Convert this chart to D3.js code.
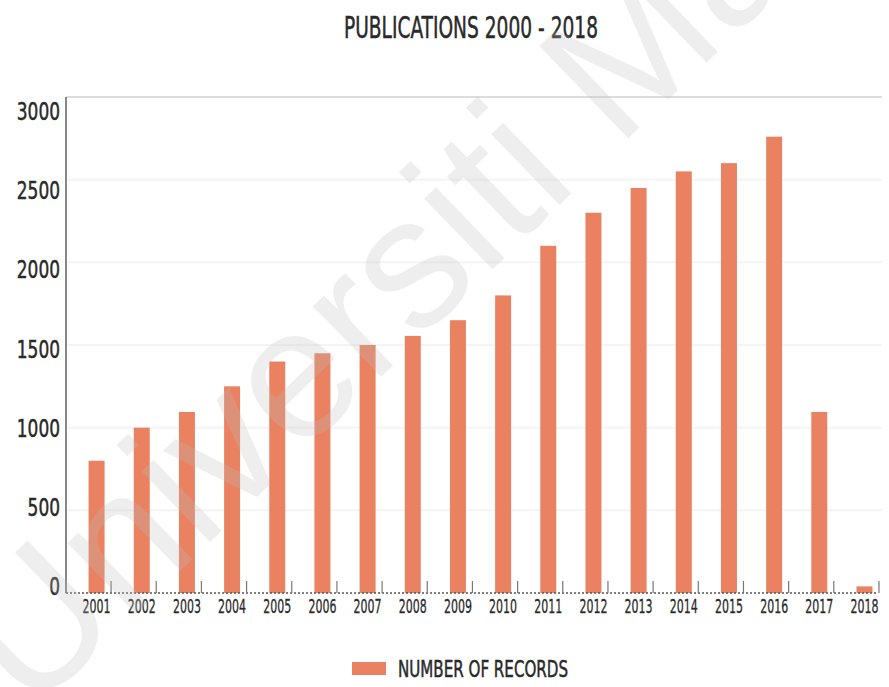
<!DOCTYPE html>
<html>
<head>
<meta charset="utf-8">
<script src="https://cdn.jsdelivr.net/npm/d3@7"></script>
<style>
  html, body { margin: 0; padding: 0; background: #ffffff; }
  svg { display: block; }
  text.lbl { font-family: "Liberation Sans Narrow", "DejaVu Sans Condensed", "Roboto", sans-serif; fill: #2a2a2a; stroke: #2a2a2a; stroke-width: 0.5px; }
  text.stamp { font-family: "Liberation Sans", Arial, sans-serif; font-weight: normal; }
</style>
</head>
<body>
<svg id="chart" width="889" height="687"></svg>
<script>
// Publication counts per year
const years = ["2001","2002","2003","2004","2005","2006","2007","2008","2009",
               "2010","2011","2012","2013","2014","2015","2016","2017","2018"];
const records = [800, 1000, 1095, 1250, 1400, 1450, 1500, 1555, 1650,
                 1800, 2100, 2300, 2450, 2550, 2600, 2760, 1095, 40];
const yTicks = [0, 500, 1000, 1500, 2000, 2500, 3000];
const titleText = "PUBLICATIONS 2000 - 2018";
const legendText = "NUMBER OF RECORDS";
const stampText = "Universiti Malaya";

const svg = d3.select("#chart");
const barColor = "#ea8262";

// Geometry
const left = 66, baseY = 593, topY = 97;
const step = 45.17, padIn = 0.646, padOut = 0.5;

const x = d3.scaleBand()
  .domain(years)
  .range([left, left + step * (years.length - padIn + 2 * padOut)])
  .paddingInner(padIn)
  .paddingOuter(padOut);

const y = d3.scaleLinear().domain([0, 3000]).range([baseY, topY]);
// tick labels sit on a slightly tighter ladder than the gridlines
const yLabel = d3.scaleLinear().domain([0, 3000]).range([586, 111]);

// Gridlines
svg.append("g").selectAll("line")
  .data(yTicks.filter(t => t > 0))
  .join("line")
  .attr("x1", left).attr("x2", 882)
  .attr("y1", d => y(d)).attr("y2", d => y(d))
  .attr("stroke", d => d === 3000 ? "#d2d2d2" : "#f4f4f4")
  .attr("stroke-width", d => d === 3000 ? 1.5 : 2);

// Bars
svg.append("g").selectAll("rect")
  .data(records)
  .join("rect")
  .attr("x", (d, i) => x(years[i]))
  .attr("width", x.bandwidth())
  .attr("y", d => y(d))
  .attr("height", d => y(0) - y(d))
  .attr("fill", barColor);

// Y axis line
svg.append("line")
  .attr("x1", left).attr("x2", left)
  .attr("y1", topY).attr("y2", baseY)
  .attr("stroke", "#6a6a6a").attr("stroke-width", 1.6);

// Baseline (dotted) with small upward ticks after each bar
svg.append("line")
  .attr("x1", left).attr("x2", 878)
  .attr("y1", baseY).attr("y2", baseY)
  .attr("stroke", "#555").attr("stroke-width", 1.4)
  .attr("stroke-dasharray", "2,2");

svg.append("g").selectAll("line")
  .data(years)
  .join("line")
  .attr("x1", d => x(d) + x.bandwidth() + 6.5)
  .attr("x2", d => x(d) + x.bandwidth() + 6.5)
  .attr("y1", baseY).attr("y2", baseY - 12)
  .attr("stroke", "#777").attr("stroke-width", 1.2);

// Y tick labels
svg.append("g").selectAll("text")
  .data(yTicks)
  .join("text")
  .attr("class", "lbl")
  .attr("x", 60)
  .attr("y", d => yLabel(d))
  .attr("dy", "0.36em")
  .attr("text-anchor", "end")
  .attr("font-size", 25)
  .attr("textLength", d => String(d).length * 10.8)
  .attr("lengthAdjust", "spacingAndGlyphs")
  .text(d => d);

// X tick labels
svg.append("g").selectAll("text")
  .data(years)
  .join("text")
  .attr("class", "lbl")
  .attr("x", d => x(d) + x.bandwidth() / 2)
  .attr("y", 613)
  .attr("text-anchor", "middle")
  .attr("font-size", 20)
  .attr("textLength", 28)
  .attr("lengthAdjust", "spacingAndGlyphs")
  .style("stroke-width", "0.3px")
  .text(d => d);

// Title
svg.append("text")
  .attr("class", "lbl")
  .attr("x", 344).attr("y", 38)
  .attr("font-size", 31)
  .attr("textLength", 254)
  .attr("lengthAdjust", "spacingAndGlyphs")
  .text(titleText);

// Legend
svg.append("rect")
  .attr("x", 352).attr("y", 662)
  .attr("width", 34).attr("height", 13)
  .attr("fill", barColor);
svg.append("text")
  .attr("class", "lbl")
  .attr("x", 398).attr("y", 677)
  .attr("font-size", 23)
  .attr("textLength", 170)
  .attr("lengthAdjust", "spacingAndGlyphs")
  .text(legendText);

// Faint diagonal stamp over the chart
svg.append("text")
  .attr("class", "stamp")
  .attr("transform", "translate(30,716) rotate(-44)")
  .attr("font-size", 186)
  .style("fill", "rgba(190,190,190,0.26)")
  .text(stampText);
</script>
</body>
</html>
